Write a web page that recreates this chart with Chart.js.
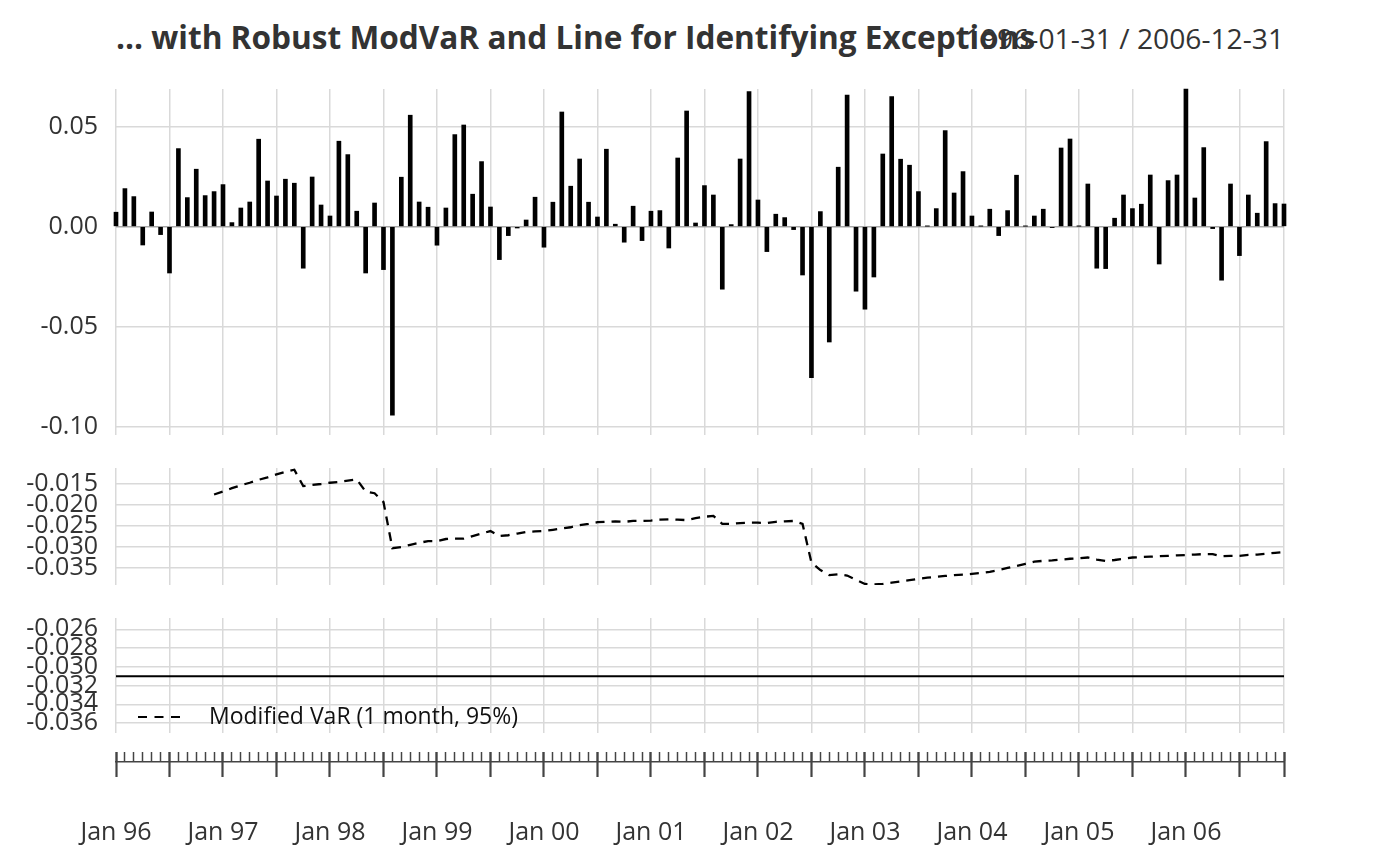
<!DOCTYPE html>
<html>
<head>
<meta charset="utf-8">
<script src="https://cdn.jsdelivr.net/npm/chart.js@4.4.1/dist/chart.umd.min.js"></script>
<style>
  html, body { margin:0; padding:0; background:#fff; width:1400px; height:866px; overflow:hidden; }
  .box { position:absolute; left:0; width:1400px; }
  canvas { display:block; }
  #title { position:absolute; left:116px; top:15px; font:bold 31.6px 'Open Sans'; color:#333; white-space:nowrap; line-height:normal; }
  #range { position:absolute; right:116px; top:19px; font:28.2px 'Open Sans'; color:#333; white-space:nowrap; line-height:normal; }
</style>
</head>
<body>
<div id="title">... with Robust ModVaR and Line for Identifying Exceptions</div>
<div id="range">1996-01-31 / 2006-12-31</div>
<div class="box" style="top:54px;height:416px"><canvas id="c1" width="1400" height="416"></canvas></div>
<div class="box" style="top:433px;height:187px"><canvas id="c2" width="1400" height="187"></canvas></div>
<div class="box" style="top:583px;height:185px"><canvas id="c3" width="1400" height="185"></canvas></div>
<div class="box" style="top:662px;height:152px"><canvas id="c4" width="1400" height="152"></canvas></div>
<div class="box" style="top:700px;height:152px"><canvas id="c5" width="1400" height="152"></canvas></div>
<script>
// ---------------- DATA ----------------
// month index 0 = Jan 1996 ... 131 = Dec 2006
const monthIndex = Array.from({length: 132}, (_, i) => i);

// monthly returns (bars)
const returns = [
  0.0072, 0.0190, 0.0150, -0.0092, 0.0073, -0.0040, -0.0232, 0.0390, 0.0145, 0.0287,
  0.0155, 0.0175, 0.0210, 0.0020, 0.0093, 0.0123, 0.0437, 0.0228, 0.0153, 0.0237,
  0.0217, -0.0208, 0.0248, 0.0108, 0.0053, 0.0427, 0.0360, 0.0077, -0.0232, 0.0118,
  -0.0215, -0.0943, 0.0247, 0.0557, 0.0123, 0.0097, -0.0093, 0.0093, 0.0460, 0.0508,
  0.0162, 0.0325, 0.0098, -0.0165, -0.0045, -0.0007, 0.0033, 0.0147, -0.0103, 0.0122,
  0.0573, 0.0202, 0.0338, 0.0122, 0.0048, 0.0387, 0.0012, -0.0078, 0.0102, -0.0070,
  0.0077, 0.0080, -0.0107, 0.0343, 0.0578, 0.0018, 0.0205, 0.0158, -0.0313, 0.0010,
  0.0338, 0.0675, 0.0133, -0.0125, 0.0062, 0.0045, -0.0015, -0.0242, -0.0755, 0.0075,
  -0.0577, 0.0297, 0.0658, -0.0323, -0.0413, -0.0252, 0.0363, 0.0650, 0.0337, 0.0307,
  0.0175, 0.0002, 0.0090, 0.0480, 0.0168, 0.0275, 0.0053, 0.0002, 0.0087, -0.0045,
  0.0080, 0.0257, 0.0002, 0.0053, 0.0087, -0.0005, 0.0393, 0.0438, 0.0002, 0.0213,
  -0.0208, -0.0210, 0.0042, 0.0158, 0.0090, 0.0112, 0.0258, -0.0187, 0.0230, 0.0258,
  0.0688, 0.0143, 0.0395, -0.0010, -0.0268, 0.0213, -0.0145, 0.0158, 0.0067, 0.0425,
  0.0115, 0.0113
];

// Modified VaR (1 month, 95%) – expanding window, starts Dec 1996
const modVaR = [
  null, null, null, null, null, null, null, null, null, null, null,
  -0.0175, -0.0168, -0.0160, -0.0153, -0.0147, -0.0140, -0.0134, -0.0127, -0.0121,
  -0.0116, -0.0155, -0.0152, -0.0150, -0.0147, -0.0145, -0.0142, -0.0139, -0.0168, -0.0172,
  -0.0193, -0.0303, -0.0300, -0.0295, -0.0290, -0.0286, -0.0286, -0.0281, -0.0280, -0.0280,
  -0.0274, -0.0268, -0.0262, -0.0274, -0.0272, -0.0268, -0.0264, -0.0263, -0.0262, -0.0259,
  -0.0256, -0.0253, -0.0248, -0.0245, -0.0241, -0.0240, -0.0239, -0.0240, -0.0238, -0.0238,
  -0.0237, -0.0235, -0.0234, -0.0235, -0.0236, -0.0231, -0.0228, -0.0226, -0.0245, -0.0245,
  -0.0243, -0.0242, -0.0242, -0.0243, -0.0240, -0.0239, -0.0238, -0.0245, -0.0337, -0.0355,
  -0.0367, -0.0365, -0.0368, -0.0378, -0.0388, -0.0389, -0.0388, -0.0385, -0.0382, -0.0379,
  -0.0376, -0.0373, -0.0371, -0.0369, -0.0367, -0.0366, -0.0364, -0.0362, -0.0359, -0.0355,
  -0.0350, -0.0345, -0.0340, -0.0335, -0.0333, -0.0332, -0.0330, -0.0328, -0.0327, -0.0325,
  -0.0330, -0.0333, -0.0331, -0.0328, -0.0325, -0.0324, -0.0323, -0.0322, -0.0321, -0.0320,
  -0.0319, -0.0318, -0.0317, -0.0317, -0.0322, -0.0321, -0.0321, -0.0319, -0.0318, -0.0316,
  -0.0314, -0.0312
];

// exception line level (bottom panel)
const exceptionLine = -0.0310;

// tick labels / positions
const yTicksReturns = [-0.10, -0.05, 0.00, 0.05];
const yTicksVaR = [-0.035, -0.030, -0.025, -0.020, -0.015];
const yTicksLine = [-0.036, -0.034, -0.032, -0.030, -0.028, -0.026];
const yearLabels = ['Jan 96','Jan 97','Jan 98','Jan 99','Jan 00','Jan 01','Jan 02','Jan 03','Jan 04','Jan 05','Jan 06'];
const legendLabel = 'Modified VaR (1 month, 95%)';

// ---------------- CHARTS ----------------
Chart.defaults.font.family = "'Open Sans'";
Chart.defaults.color = '#333';
Chart.defaults.animation = false;

const LAST = monthIndex.length - 1;
const gridTicks = monthIndex.filter(i => i % 6 === 0).concat([LAST]);
const GRID = '#d9d9d9';

function xGridScale() {
  return {
    type: 'linear', min: 0, max: LAST, offset: false,
    grid: { color: GRID, lineWidth: 1.5, drawTicks: false, offset: false },
    border: { display: false },
    ticks: { display: false },
    afterBuildTicks: s => { s.ticks = gridTicks.map(v => ({ value: v })); }
  };
}
function yScale(min, max, ticks, digits, zeroDark) {
  return {
    type: 'linear', min: min, max: max,
    grid: { color: c => (zeroDark && c.tick && c.tick.value === 0) ? '#a8a8a8' : GRID, lineWidth: 1.5, drawTicks: false },
    border: { display: false },
    ticks: { padding: 18, autoSkip: false, font: { size: 25 }, color: '#333', callback: v => Number(v).toFixed(digits) },
    afterBuildTicks: s => { s.ticks = ticks.map(v => ({ value: v })); },
    afterFit: s => { s.width = 116; }
  };
}
const basePlugins = { legend: { display: false }, tooltip: { enabled: false } };
const panelLayout = { padding: { top: 35, bottom: 35, left: 0, right: 116 } };

// Panel 1: returns bars
new Chart(document.getElementById('c1'), {
  type: 'bar',
  data: { datasets: [{
    data: monthIndex.map(i => ({ x: i, y: returns[i] })),
    backgroundColor: '#000', borderWidth: 0, barThickness: 4, clip: false
  }]},
  options: {
    responsive: false, layout: panelLayout, plugins: basePlugins,
    scales: { x: xGridScale(), y: yScale(-0.1042, 0.0688, yTicksReturns, 2, true) }
  }
});

// Panel 2: Modified VaR dashed line
new Chart(document.getElementById('c2'), {
  type: 'line',
  data: { datasets: [{
    data: monthIndex.filter(i => modVaR[i] !== null).map(i => ({ x: i, y: modVaR[i] })),
    borderColor: '#000', borderWidth: 2.3, borderDash: [9, 7], pointRadius: 0, tension: 0, fill: false
  }]},
  options: {
    responsive: false, layout: panelLayout, plugins: basePlugins,
    scales: { x: xGridScale(), y: yScale(-0.03905, -0.01119, yTicksVaR, 3, false) }
  }
});

// Panel 3: exception line + legend
const varLegend = {
  id: 'varLegend',
  afterDatasetsDraw(chart) {
    const { ctx, chartArea } = chart;
    const y = chartArea.bottom - 16;
    const x0 = chartArea.left + 22;
    ctx.save();
    ctx.strokeStyle = '#000';
    ctx.lineWidth = 2;
    ctx.setLineDash([9, 7.5]);
    ctx.beginPath(); ctx.moveTo(x0, y); ctx.lineTo(x0 + 42, y); ctx.stroke();
    ctx.setLineDash([]);
    ctx.fillStyle = '#111';
    ctx.font = "23px 'Open Sans'";
    ctx.textAlign = 'left';
    ctx.textBaseline = 'middle';
    ctx.fillText(legendLabel, x0 + 71, y);
    ctx.restore();
  }
};
new Chart(document.getElementById('c3'), {
  type: 'line',
  data: { datasets: [{
    data: [{ x: 0, y: exceptionLine }, { x: LAST, y: exceptionLine }],
    borderColor: '#000', borderWidth: 2, pointRadius: 0, fill: false
  }]},
  options: {
    responsive: false, layout: panelLayout, plugins: basePlugins,
    scales: { x: xGridScale(), y: yScale(-0.03707, -0.02479, yTicksLine, 3, false) }
  },
  plugins: [varLegend]
});

// Bottom time axis: axis line with minor (monthly) ticks pointing up
new Chart(document.getElementById('c4'), {
  type: 'line',
  data: { datasets: [] },
  options: {
    responsive: false, plugins: basePlugins,
    layout: { padding: { top: 0, bottom: 0, left: 116, right: 116 } },
    scales: {
      x: {
        type: 'linear', position: 'top', min: 0, max: LAST, offset: false,
        grid: { drawOnChartArea: false, drawTicks: true, tickLength: 10, tickWidth: 1.5, tickColor: '#444', offset: false },
        border: { display: true, color: '#444', width: 1.5 },
        ticks: { display: false },
        afterBuildTicks: s => { s.ticks = monthIndex.map(v => ({ value: v })); },
        afterFit: s => { s.height = 100; }
      },
      y: { display: false, min: 0, max: 1 }
    }
  }
});

// Bottom time axis: major (half-year) ticks + year labels
new Chart(document.getElementById('c5'), {
  type: 'line',
  data: { datasets: [] },
  options: {
    responsive: false, plugins: basePlugins,
    layout: { padding: { top: 0, bottom: 0, left: 116, right: 116 } },
    scales: {
      x: {
        type: 'linear', min: 0, max: LAST, offset: false,
        grid: { drawOnChartArea: false, drawTicks: true, tickLength: 25, tickWidth: 2.2, tickColor: '#444', offset: false },
        border: { display: false },
        ticks: {
          autoSkip: false, maxRotation: 0, padding: 41, font: { size: 25 }, color: '#333',
          callback: v => (v % 12 === 0 ? yearLabels[v / 12] : '')
        },
        afterBuildTicks: s => { s.ticks = gridTicks.map(v => ({ value: v })); },
        afterFit: s => { s.height = 100; }
      },
      y: { display: false, min: 0, max: 1 }
    }
  }
});
</script>
</body>
</html>
